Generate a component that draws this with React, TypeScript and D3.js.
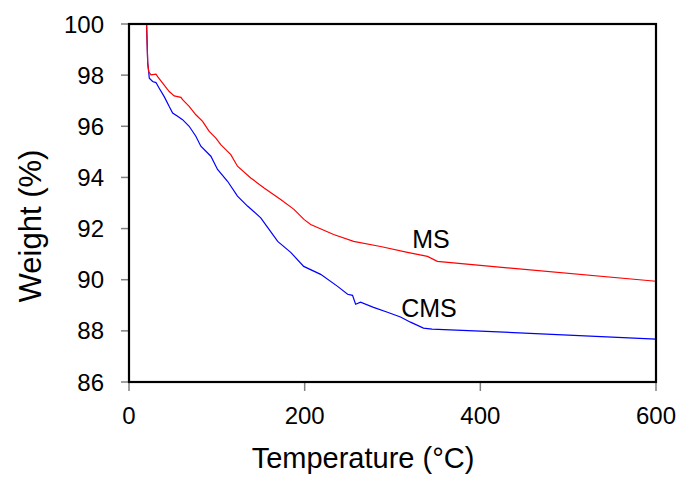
import React from "react";
import * as d3 from "d3";

const msTemp = [20, 21.3, 22.4, 25, 30.7, 32.6, 38.3, 45.8, 51.5, 55.3, 59.1, 61, 68.5, 76.1, 83.8, 91.3, 98.9, 104.5, 115.9, 123.5, 138.6, 153.8, 172.7, 187.8, 199.2, 206.8, 233, 255.7, 286.4, 317, 339.8, 351, 400, 600];
const msWeight = [100, 98.48, 98.14, 98.01, 98.04, 97.94, 97.69, 97.36, 97.19, 97.16, 97.13, 97.04, 96.78, 96.45, 96.19, 95.8, 95.54, 95.28, 94.89, 94.44, 93.98, 93.59, 93.14, 92.75, 92.36, 92.16, 91.77, 91.5, 91.3, 91.07, 90.91, 90.72, 90.56, 89.94];

const cmsTemp = [20, 21.3, 22.4, 23.1, 26.9, 30.7, 34.4, 40.1, 45.8, 49.7, 55.3, 61, 68.5, 76.1, 81.8, 93.2, 100.8, 112.2, 123.5, 134.9, 142, 150, 158, 169.3, 184.1, 198.9, 218.2, 237.5, 248.9, 254.5, 258, 263.6, 278.4, 294.3, 309.1, 320.5, 335.2, 345, 400, 600];
const cmsWeight = [100, 98.48, 98.14, 97.88, 97.75, 97.71, 97.49, 97.16, 96.77, 96.52, 96.39, 96.26, 96.0, 95.61, 95.22, 94.83, 94.31, 93.85, 93.27, 92.88, 92.67, 92.42, 92.04, 91.5, 91.07, 90.52, 90.21, 89.74, 89.43, 89.39, 89.04, 89.12, 88.92, 88.73, 88.54, 88.34, 88.11, 88.07, 87.99, 87.68];

const xTicks = [0, 200, 400, 600];
const yTicks = [86, 88, 90, 92, 94, 96, 98, 100];

const seriesLabels = ["MS", "CMS"];

export default function App() {
  const x = d3.scaleLinear().domain([0, 600]).range([129, 656]);
  const y = d3.scaleLinear().domain([86, 100]).range([382, 24]);
  const line = d3
    .line<[number, number]>()
    .x((d) => x(d[0]))
    .y((d) => y(d[1]));
  const ms = msTemp.map((t, i) => [t, msWeight[i]] as [number, number]);
  const cms = cmsTemp.map((t, i) => [t, cmsWeight[i]] as [number, number]);
  const font = "Liberation Sans, Arial, sans-serif";
  return (
    <svg
      width={681}
      height={479}
      style={{ position: "absolute", left: 0, top: 0, background: "#fff" }}
      fontFamily={font}
    >
      <rect x={0} y={0} width={681} height={479} fill="#fff" />
      {yTicks.map((t) => (
        <g key={"y" + t}>
          <line x1={121} x2={129} y1={y(t)} y2={y(t)} stroke="#808080" strokeWidth={1.5} />
          <text x={104} y={y(t)} dy="0.36em" textAnchor="end" fontSize={24} fill="#000">
            {t}
          </text>
        </g>
      ))}
      {xTicks.map((t) => (
        <g key={"x" + t}>
          <line x1={x(t)} x2={x(t)} y1={382} y2={391} stroke="#808080" strokeWidth={1.5} />
          <text x={x(t)} y={424} textAnchor="middle" fontSize={24} fill="#000">
            {t}
          </text>
        </g>
      ))}
      <path d={line(cms) || ""} fill="none" stroke="#0000ff" strokeWidth={1.2} />
      <path d={line(ms) || ""} fill="none" stroke="#ff0000" strokeWidth={1.2} />
      <rect x={129} y={24} width={527} height={358} fill="none" stroke="#000" strokeWidth={2.2} />
      <text x={431} y={248} textAnchor="middle" fontSize={25} fill="#000">
        {seriesLabels[0]}
      </text>
      <text x={429} y={317} textAnchor="middle" fontSize={25} fill="#000">
        {seriesLabels[1]}
      </text>
      <text x={363} y={468} textAnchor="middle" fontSize={29} fill="#000">
        Temperature (°C)
      </text>
      <text
        transform="translate(41,226) rotate(-90)"
        textAnchor="middle"
        fontSize={31}
        fill="#000"
      >
        Weight (%)
      </text>
    </svg>
  );
}
